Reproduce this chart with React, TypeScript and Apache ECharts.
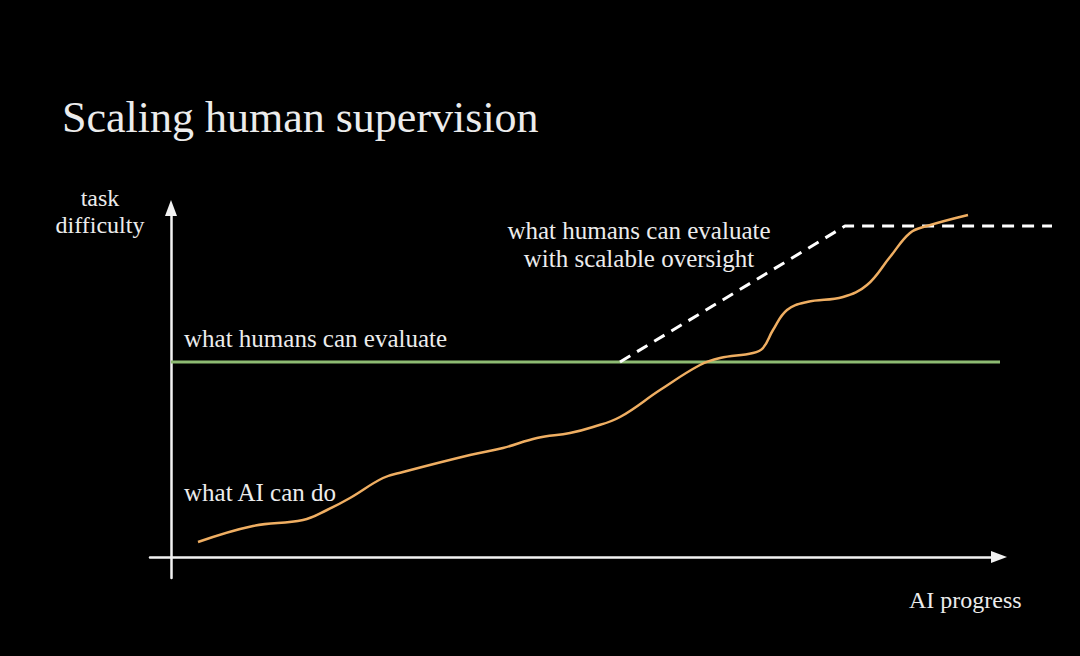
import React, { useEffect, useRef } from "react";
import * as echarts from "echarts";

// AI progress (x) and task difficulty (y) in arbitrary units
const aiCurveX = [2.7, 8.2, 13.2, 15.6, 17.9, 21.2, 23.2, 29.9, 33.2, 36.6, 39.9, 42.2, 44.9, 48.9, 52.9, 54.9, 58.2, 59.2, 60.2, 61.6, 63.6, 67.2, 69.6, 71.9, 73.9, 75.6, 79.7];
const aiCurveY = [1.5, 3.1, 3.7, 4.7, 5.9, 7.9, 8.5, 10.2, 10.9, 11.9, 12.4, 13.0, 14.0, 16.7, 19.2, 19.9, 20.4, 20.9, 22.7, 24.7, 25.5, 26.0, 27.2, 30.0, 32.4, 33.1, 34.2];

const humanX = [0, 82.9];
const humanY = [19.5, 19.5];

const oversightX = [44.9, 67.4, 88.1];
const oversightY = [19.5, 33.1, 33.1];

// visible axes range, and a wider data range (same scale) for marks running past the arrow
const xRange = [-2.1, 82.8];
const xDataRange = [-2.1, 89.9];
const yRange = [-2.1, 34.9];

const titleText = "Scaling human supervision";
const yAxisName = "task\ndifficulty";
const xAxisName = "AI progress";
const humanLabel = "what humans can evaluate";
const oversightLabel = "what humans can evaluate\nwith scalable oversight";
const aiLabel = "what AI can do";

const zip = (xs: number[], ys: number[]) => xs.map((x, i) => [x, ys[i]]);

const FONT = "'Liberation Serif', 'DejaVu Serif', serif";
const TXT = "#ECECEC";

export default function App() {
  const ref = useRef<HTMLDivElement>(null);
  useEffect(() => {
    if (!ref.current) return;
    const chart = echarts.init(ref.current, undefined, { renderer: "svg" });
    const axisLine = {
      show: true,
      onZero: true,
      symbol: ["none", "triangle"],
      symbolSize: [12, 16],
      lineStyle: { color: "#F2F2F2", width: 2.5 },
    };
    const hidden = {
      axisLine: { show: false },
      axisTick: { show: false },
      axisLabel: { show: false },
      splitLine: { show: false },
    };
    chart.setOption({
      animation: false,
      backgroundColor: "#000000",
      title: {
        text: titleText,
        left: 57,
        top: 90,
        textStyle: { color: TXT, fontFamily: FONT, fontSize: 44, fontWeight: "normal" },
      },
      grid: [
        { left: 150, right: 81, top: 208, bottom: 78, containLabel: false },
        { left: 150, right: 1080 - 150 - 920, top: 208, bottom: 78, containLabel: false },
      ],
      xAxis: [
        { type: "value", gridIndex: 0, min: xRange[0], max: xRange[1], axisLine, axisTick: { show: false }, axisLabel: { show: false }, splitLine: { show: false } },
        { type: "value", gridIndex: 1, min: xDataRange[0], max: xDataRange[1], ...hidden },
      ],
      yAxis: [
        { type: "value", gridIndex: 0, min: yRange[0], max: yRange[1], axisLine, axisTick: { show: false }, axisLabel: { show: false }, splitLine: { show: false } },
        { type: "value", gridIndex: 1, min: yRange[0], max: yRange[1], ...hidden },
      ],
      series: [
        {
          type: "line",
          xAxisIndex: 1,
          yAxisIndex: 1,
          data: zip(humanX, humanY),
          showSymbol: false,
          lineStyle: { color: "#8DBB72", width: 3 },
        },
        {
          type: "line",
          xAxisIndex: 1,
          yAxisIndex: 1,
          data: zip(oversightX, oversightY),
          showSymbol: false,
          lineStyle: { color: "#FFFFFF", width: 3, type: [12, 8] },
        },
        {
          type: "line",
          xAxisIndex: 1,
          yAxisIndex: 1,
          data: zip(aiCurveX, aiCurveY),
          showSymbol: false,
          smooth: 0.4,
          clip: false,
          lineStyle: { color: "#EFAE62", width: 2.5 },
        },
      ],
      graphic: [
        {
          type: "text",
          x: 100,
          y: 211,
          style: { text: yAxisName, fill: TXT, font: `24px ${FONT}`, align: "center", verticalAlign: "middle", lineHeight: 27 },
        },
        {
          type: "text",
          x: 909,
          y: 600,
          style: { text: xAxisName, fill: TXT, font: `24px ${FONT}`, align: "left", verticalAlign: "middle" },
        },
        {
          type: "text",
          x: 184,
          y: 338,
          style: { text: humanLabel, fill: TXT, font: `25px ${FONT}`, align: "left", verticalAlign: "middle" },
        },
        {
          type: "text",
          x: 639,
          y: 244,
          style: { text: oversightLabel, fill: TXT, font: `25px ${FONT}`, align: "center", verticalAlign: "middle", lineHeight: 28 },
        },
        {
          type: "text",
          x: 184,
          y: 492,
          style: { text: aiLabel, fill: TXT, font: `25px ${FONT}`, align: "left", verticalAlign: "middle" },
        },
      ],
    });
    return () => chart.dispose();
  }, []);
  return (
    <div
      ref={ref}
      style={{ position: "fixed", left: 0, top: 0, width: 1080, height: 656, background: "#000" }}
    />
  );
}
